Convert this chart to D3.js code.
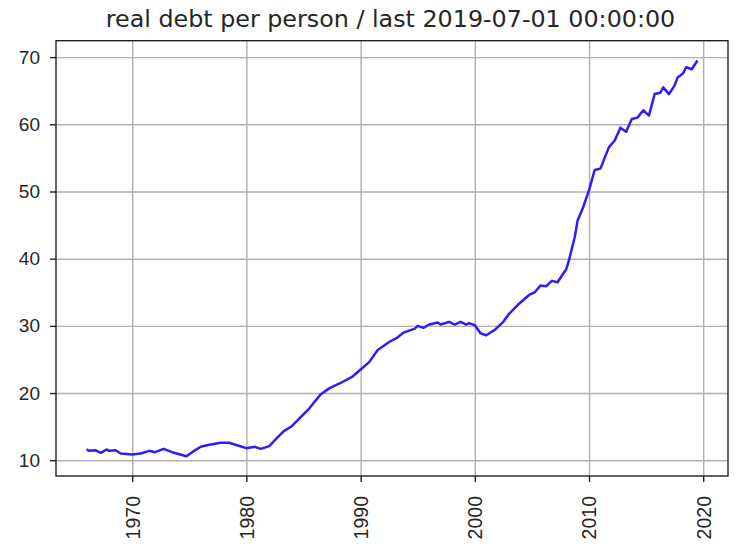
<!DOCTYPE html>
<html>
<head>
<meta charset="utf-8">
<script src="https://cdn.jsdelivr.net/npm/d3@7"></script>
<style>
  body { margin: 0; background: #fff; }
  svg { display: block; font-family: "DejaVu Sans", sans-serif; }
</style>
</head>
<body>
<svg id="chart" width="750" height="553"></svg>
<script>
// quarterly-ish readings of the series (date, value)
const dates = [
  "1966-01","1966-04","1966-10","1967-04","1967-10","1968-01","1968-07","1969-01",
  "1970-01","1970-10","1971-07","1972-01","1972-10","1973-07","1974-10","1975-04",
  "1976-01","1976-10","1977-10","1978-07","1979-04","1980-01","1980-10","1981-04",
  "1982-01","1982-07","1983-04","1984-01","1984-10","1985-07","1986-07","1987-04",
  "1988-04","1989-04","1990-01","1990-10","1991-07","1992-07","1993-04","1993-10",
  "1994-10","1995-01","1995-07","1996-01","1996-10","1997-01","1997-10","1998-04",
  "1998-10","1999-04","1999-07","2000-01","2000-07","2001-01","2001-10","2002-07",
  "2003-01","2003-10","2004-10","2005-04","2005-10","2006-04","2006-10","2007-04",
  "2007-10","2008-01","2008-04","2008-10","2009-01","2009-07","2010-01","2010-07",
  "2011-01","2011-10","2012-04","2012-10","2013-04","2013-10","2014-04","2014-10",
  "2015-04","2015-10","2016-04","2016-07","2017-01","2017-07","2017-10","2018-04",
  "2018-07","2019-01","2019-07"
];
const values = [
  11.6, 11.4, 11.5, 11.1, 11.6, 11.4, 11.5, 11.0,
  10.85, 11.0, 11.4, 11.2, 11.7, 11.2, 10.6, 11.2,
  12.0, 12.3, 12.6, 12.6, 12.2, 11.8, 12.0, 11.7,
  12.1, 13.0, 14.3, 15.1, 16.4, 17.7, 19.8, 20.7,
  21.5, 22.4, 23.5, 24.6, 26.4, 27.6, 28.3, 29.0,
  29.6, 30.0, 29.7, 30.2, 30.5, 30.2, 30.6, 30.2,
  30.6, 30.2, 30.4, 30.1, 28.9, 28.6, 29.4, 30.6,
  31.8, 33.1, 34.6, 35.0, 36.0, 35.9, 36.7, 36.5,
  37.8, 38.4, 39.8, 43.2, 45.7, 47.7, 50.2, 53.2,
  53.4, 56.6, 57.6, 59.5, 58.9, 60.8, 61.0, 62.1,
  61.3, 64.5, 64.7, 65.5, 64.5, 65.8, 66.95, 67.6,
  68.5, 68.2, 69.5
];
const yTicks = [10, 20, 30, 40, 50, 60, 70];
const xTickYears = [1970, 1980, 1990, 2000, 2010, 2020];
const title = "real debt per person / last 2019-07-01 00:00:00";

const parse = d3.timeParse("%Y-%m");
const data = dates.map((d, i) => ({ date: parse(d), value: values[i] }));

const mLeft = 56, mRight = 728, mTop = 40.7, mBottom = 476;
const svg = d3.select("#chart");

// matplotlib style 5% margins
const [t0, t1] = d3.extent(data, d => +d.date);
const xpad = (t1 - t0) * 0.05;
const x = d3.scaleTime()
    .domain([new Date(t0 - xpad), new Date(t1 + xpad)])
    .range([mLeft, mRight]);

const [v0, v1] = d3.extent(values);
const ypad = (v1 - v0) * 0.05;
const y = d3.scaleLinear()
    .domain([v0 - ypad, v1 + ypad])
    .range([mBottom, mTop]);

const xTicks = xTickYears.map(yr => new Date(yr, 0, 1));

// grid
svg.append("g")
  .attr("transform", `translate(0,${mBottom})`)
  .call(d3.axisBottom(x).tickValues(xTicks).tickSize(-(mBottom - mTop)).tickFormat(""))
  .call(g => g.select(".domain").remove())
  .call(g => g.selectAll("line").attr("stroke", "#b0b0b0").attr("stroke-width", 1.4));
svg.append("g")
  .attr("transform", `translate(${mLeft},0)`)
  .call(d3.axisLeft(y).tickValues(yTicks).tickSize(-(mRight - mLeft)).tickFormat(""))
  .call(g => g.select(".domain").remove())
  .call(g => g.selectAll("line").attr("stroke", "#b0b0b0").attr("stroke-width", 1.4));

// series
const line = d3.line()
    .x(d => x(d.date))
    .y(d => y(d.value));
svg.append("path")
  .datum(data)
  .attr("fill", "none")
  .attr("stroke", "#2e1cff")
  .attr("stroke-width", 2.5)
  .attr("stroke-linejoin", "round")
  .attr("d", line);

// frame
svg.append("rect")
  .attr("x", mLeft).attr("y", mTop)
  .attr("width", mRight - mLeft).attr("height", mBottom - mTop)
  .attr("fill", "none").attr("stroke", "#222").attr("stroke-width", 1.4);

// axes
const xAxis = svg.append("g")
  .attr("transform", `translate(0,${mBottom})`)
  .call(d3.axisBottom(x).tickValues(xTicks).tickSize(6).tickFormat(d3.timeFormat("%Y")));
xAxis.select(".domain").remove();
xAxis.selectAll("line").attr("stroke", "#222").attr("stroke-width", 1.4);
xAxis.selectAll("text")
  .attr("fill", "#262626")
  .style("font-size", "19.5px")
  .attr("text-anchor", "end")
  .attr("dy", "0.35em")
  .attr("transform", "translate(0,20) rotate(-90)")
  .attr("x", 0).attr("y", 0);

const yAxis = svg.append("g")
  .attr("transform", `translate(${mLeft},0)`)
  .call(d3.axisLeft(y).tickValues(yTicks).tickSize(6).tickPadding(10));
yAxis.select(".domain").remove();
yAxis.selectAll("line").attr("stroke", "#222").attr("stroke-width", 1.4);
yAxis.selectAll("text").attr("fill", "#262626").style("font-size", "19px");

// title
svg.append("text")
  .attr("x", (mLeft + mRight) / 2 - 1.5)
  .attr("y", 27)
  .attr("text-anchor", "middle")
  .attr("fill", "#262626")
  .style("font-size", "23.8px")
  .text(title);
</script>
</body>
</html>
